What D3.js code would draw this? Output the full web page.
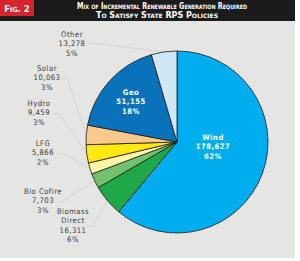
<!DOCTYPE html>
<html>
<head>
<meta charset="utf-8">
<script src="https://cdn.jsdelivr.net/npm/d3@7"></script>
<style>
  body { margin: 0; background: #fff; }
  svg text { font-family: "Liberation Sans Narrow", "DejaVu Sans Condensed", "Liberation Sans", sans-serif; }
</style>
</head>
<body>
<svg id="chart" width="300" height="261"></svg>
<script>
// data
var sources = ["Wind", "Biomass Direct", "Bio Cofire", "LFG", "Hydro", "Solar", "Geo", "Other"];
var gwh = [178627, 16311, 7703, 5866, 9459, 10063, 51155, 13278];
var shares = ["62%", "6%", "3%", "2%", "3%", "3%", "18%", "5%"];
var colors = ["#00aeef", "#1fa84a", "#72c16e", "#fff4a8", "#ffe812", "#f9ca8c", "#0a72bb", "#d0e7f6"];

// label layout (name lines, x, y of first line, inside or outside)
var labelPos = {
    "Wind":           {lines: ["Wind"], x: 213, y: 140, inside: true},
    "Geo":            {lines: ["Geo"], x: 131, y: 95, inside: true},
    "Other":          {lines: ["Other"], x: 72, y: 37},
    "Solar":          {lines: ["Solar"], x: 47, y: 71},
    "Hydro":          {lines: ["Hydro"], x: 39, y: 106},
    "LFG":            {lines: ["LFG"], x: 43, y: 146},
    "Bio Cofire":     {lines: ["Bio Cofire"], x: 43, y: 194},
    "Biomass Direct": {lines: ["Biomass", "Direct"], x: 73, y: 214}
};

var W = 300, H = 261;
var cx = 177, cy = 142, r = 91;
var lineH = 9.3;

var svg = d3.select("#chart");

// panel background and header
svg.append("rect").attr("x", 0).attr("y", 0).attr("width", 295).attr("height", 258).attr("fill", "#e5e5e3");
svg.append("rect").attr("x", 0).attr("y", 0).attr("width", 295).attr("height", 21).attr("fill", "#1b1b1b");
svg.append("rect").attr("x", 0).attr("y", 0).attr("width", 34).attr("height", 16).attr("fill", "#d7232b");

svg.append("text")
    .attr("x", 17).attr("y", 12)
    .attr("text-anchor", "middle")
    .attr("fill", "#fff")
    .attr("font-size", 9.5)
    .attr("font-weight", "bold")
    .style("font-variant", "small-caps")
    .text("Fig. 2");

var titleLines = ["Mix of Incremental Renewable Generation Required", "To Satisfy State RPS Policies"];
var titleWidths = [170, 122];
titleLines.forEach(function(t, i) {
    svg.append("text")
        .attr("x", 162 - (i ? 5 : 0)).attr("y", 9 + i * 8.5)
        .attr("text-anchor", "middle")
        .attr("fill", "#fff")
        .attr("font-size", 8)
        .attr("font-weight", "bold")
        .attr("textLength", titleWidths[i])
        .attr("lengthAdjust", "spacingAndGlyphs")
        .style("font-variant", "small-caps")
        .text(t);
});

var data = sources.map(function(s, i) {
    return {name: s, value: gwh[i], share: shares[i], color: colors[i]};
});

var pie = d3.pie().sort(null).value(function(d) { return d.value; });
var arcs = pie(data);

var arc = d3.arc().innerRadius(0).outerRadius(r);
var edge = d3.arc().innerRadius(r).outerRadius(r);

var g = svg.append("g").attr("transform", "translate(" + cx + "," + cy + ")");

// leader lines for outside labels
var fmt = d3.format(",");
arcs.forEach(function(a) {
    var lp = labelPos[a.data.name];
    if (lp.inside) return;
    var p = edge.centroid(a);
    var nLines = lp.lines.length + 2;
    var lx = lp.x - cx + 14, ly = lp.y - cy + (nLines - 1) * lineH / 2 - 2;
    if (a.data.name == "Other") { lx = lp.x - cx + 16; ly = lp.y - cy + lineH - 3; }
    g.append("polyline")
        .attr("points", [[lx, ly], [lx + 6, ly], [p[0], p[1]]].map(function(q) { return q.join(","); }).join(" "))
        .attr("fill", "none")
        .attr("stroke", "#c8c8c8")
        .attr("stroke-width", 0.6);
});

g.selectAll("path.slice")
    .data(arcs)
    .enter().append("path")
    .attr("class", "slice")
    .attr("d", arc)
    .attr("fill", function(d) { return d.data.color; })
    .attr("stroke", "#1a1a1a")
    .attr("stroke-width", 0.8)
    .attr("stroke-linejoin", "round");

// labels
arcs.forEach(function(a) {
    var lp = labelPos[a.data.name];
    var lines = lp.lines.concat([fmt(a.data.value), a.data.share]);
    var t = svg.append("text")
        .attr("text-anchor", "middle")
        .attr("font-size", 7.6)
        .attr("letter-spacing", 0.5)
        .attr("font-weight", lp.inside ? "bold" : "normal")
        .attr("fill", lp.inside ? "#ffffff" : "#3a3a3a");
    lines.forEach(function(l, i) {
        t.append("tspan").attr("x", lp.x).attr("y", lp.y + i * lineH).text(l);
    });
});
</script>
</body>
</html>
